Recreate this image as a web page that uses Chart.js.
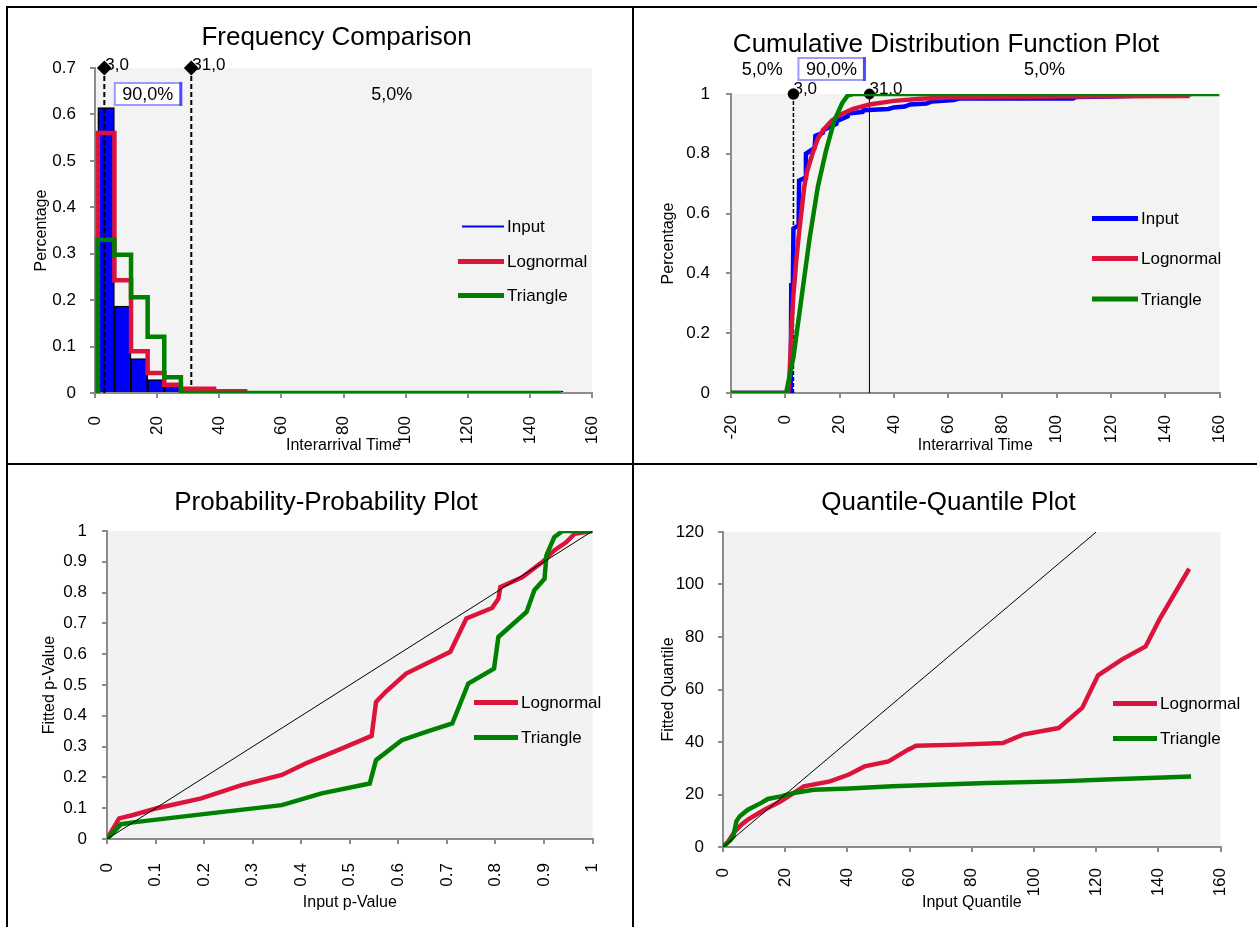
<!DOCTYPE html>
<html><head><meta charset="utf-8">
<script src="https://cdn.jsdelivr.net/npm/chart.js"></script>
<style>
html,body{margin:0;padding:0;background:#fff;}
body{width:1257px;height:927px;position:relative;overflow:hidden;}
.ln{position:absolute;background:#000;}
canvas{position:absolute;}
</style></head><body>
<div class="ln" style="left:6px;top:6px;width:1251px;height:2px"></div>
<div class="ln" style="left:6px;top:463px;width:1251px;height:2px"></div>
<div class="ln" style="left:6px;top:6px;width:2px;height:921px"></div>
<div class="ln" style="left:632px;top:6px;width:2px;height:921px"></div>
<canvas id="c1" width="624" height="455" style="left:8px;top:8px"></canvas>
<canvas id="c2" width="623" height="455" style="left:634px;top:8px"></canvas>
<canvas id="c3" width="624" height="462" style="left:8px;top:465px"></canvas>
<canvas id="c4" width="623" height="462" style="left:634px;top:465px"></canvas>
<script>
// ---------------- DATA ----------------
// Frequency comparison (histogram bins)
const freqBinEdges = [0.9, 6.25, 11.6, 16.95, 22.3, 27.65, 33.0, 38.35, 43.7, 49.05, 54.4, 59.75, 65.1, 70.45, 75.8, 81.15, 86.5, 91.85, 97.2, 102.55, 107.9, 113.25, 118.6, 123.95, 129.3, 134.65, 140.0, 145.35, 150.7];
const freqInput = [0.615, 0.187, 0.074, 0.029, 0.016, 0.004, 0.003, 0.003, 0.002, 0.002, 0.002, 0.002, 0.002, 0.001, 0.002, 0.001, 0.001, 0.002, 0.001, 0.001, 0.002, 0.001, 0.001, 0.001, 0.0, 0.001, 0.001, 0.004];
const freqLognormal = [0.56, 0.243, 0.09, 0.043, 0.018, 0.009, 0.009, 0.004, 0.004];
const freqTriangle = [0.33, 0.298, 0.206, 0.121, 0.034, 0.0];
const freqTriangleEndX = 150;
const freqXTicks = [0, 20, 40, 60, 80, 100, 120, 140, 160];
const freqYTicks = [0, 0.1, 0.2, 0.3, 0.4, 0.5, 0.6, 0.7];

// Cutoffs shared by frequency / CDF charts
const cutoffValues = [3.0, 31.0];
const cutoffPercents = [5.0, 90.0, 5.0];

// Cumulative distribution function
const cdfInputX = [-20, 2.0, 2.2, 2.8, 3.0, 4.9, 5.1, 7.3, 7.6, 10.8, 11.1, 13.8, 14.1, 18.8, 19.1, 23.0, 23.3, 28.5, 28.8, 38, 40, 44, 46, 52, 54, 62, 64, 106, 107, 120, 150];
const cdfInputY = [0, 0, 0.36, 0.36, 0.55, 0.56, 0.71, 0.72, 0.80, 0.82, 0.86, 0.87, 0.88, 0.90, 0.91, 0.925, 0.935, 0.94, 0.946, 0.95, 0.955, 0.958, 0.965, 0.968, 0.975, 0.98, 0.985, 0.985, 0.99, 0.992, 1.0];
const cdfLognormalX = [-20, 1.0, 1.5, 2, 2.5, 3, 3.5, 4, 5, 6, 7, 8, 10, 12, 14, 17, 20, 25, 31, 40, 50, 60, 100, 149];
const cdfLognormalY = [0, 0, 0.05, 0.15, 0.25, 0.33, 0.38, 0.44, 0.53, 0.61, 0.69, 0.74, 0.80, 0.85, 0.88, 0.91, 0.93, 0.95, 0.965, 0.977, 0.984, 0.988, 0.992, 0.993];
const cdfTriangleX = [-20, 0.3, 3, 6, 9, 12, 15, 18, 21, 23, 25, 160];
const cdfTriangleY = [0, 0, 0.12, 0.32, 0.52, 0.69, 0.81, 0.91, 0.97, 0.995, 1, 1];
const cdfXTicks = [-20, 0, 20, 40, 60, 80, 100, 120, 140, 160];
const cdfYTicks = [0, 0.2, 0.4, 0.6, 0.8, 1];

// Probability-Probability
const ppLognormalX = [0, 0.025, 0.054, 0.103, 0.194, 0.277, 0.36, 0.41, 0.467, 0.545, 0.554, 0.574, 0.616, 0.657, 0.707, 0.74, 0.793, 0.806, 0.81, 0.855, 0.897, 0.921, 0.946, 0.963, 1];
const ppLognormalY = [0, 0.067, 0.078, 0.10, 0.132, 0.175, 0.208, 0.246, 0.283, 0.335, 0.445, 0.478, 0.537, 0.569, 0.608, 0.716, 0.75, 0.78, 0.818, 0.85, 0.9, 0.937, 0.964, 0.991, 1];
const ppTriangleX = [0, 0.029, 0.054, 0.194, 0.36, 0.442, 0.541, 0.554, 0.607, 0.657, 0.711, 0.744, 0.797, 0.806, 0.864, 0.88, 0.901, 0.905, 0.921, 0.938, 1];
const ppTriangleY = [0, 0.048, 0.054, 0.08, 0.11, 0.148, 0.18, 0.256, 0.321, 0.348, 0.375, 0.505, 0.553, 0.656, 0.737, 0.808, 0.845, 0.921, 0.98, 1, 1];
const ppDiagonal = [0, 1];
const ppTicks = [0, 0.1, 0.2, 0.3, 0.4, 0.5, 0.6, 0.7, 0.8, 0.9, 1];

// Quantile-Quantile
const qqLognormalX = [0, 1.7, 3.8, 5.9, 8, 13.3, 18.6, 22.8, 26, 34.4, 40.5, 45.5, 53.2, 59.5, 62.1, 76, 90, 96.4, 107.9, 115.5, 120.6, 128.2, 135.9, 140.3, 149.9];
const qqLognormalY = [0, 2.1, 5.9, 8.5, 10.4, 14.2, 17.4, 20.6, 23.1, 25, 27.6, 30.7, 32.6, 37.1, 38.6, 39, 39.6, 42.8, 45.3, 53, 65.4, 71.4, 76.4, 86.6, 106];
const qqTriangleX = [0, 2.3, 3.3, 4.3, 5.4, 8, 12.3, 14.4, 18.6, 22.8, 29.2, 40.5, 54.5, 85, 107.9, 123.2, 150.5];
const qqTriangleY = [0, 2.5, 4, 9.8, 11.7, 14.2, 16.8, 18.3, 19.3, 20.6, 21.8, 22.3, 23.1, 24.4, 25, 25.7, 26.9];
const qqDiagonal = [0, 120];
const qqXTicks = [0, 20, 40, 60, 80, 100, 120, 140, 160];
const qqYTicks = [0, 20, 40, 60, 80, 100, 120];

// ---------------- STYLE ----------------
const FONT = "'Liberation Sans', Arial, sans-serif";
const AXIS = '#8c8c8c';
const RED = '#dc143c', GREEN = '#008000', BLUE = '#0000ff';
Chart.defaults.font.family = FONT;

const pts = (xs, ys) => xs.map((x, i) => ({x, y: ys[i]}));
const fmtComma = v => v.toFixed(1).replace('.', ',');
function stepPts(edges, vals, endX) {
  const p = [{x: edges[0], y: 0}];
  vals.forEach((v, i) => p.push({x: edges[i], y: v}));
  p.push({x: endX !== undefined ? endX : edges[vals.length], y: vals[vals.length - 1]});
  return p;
}

const bgPlugin = {
  id: 'plotBg',
  beforeDraw(chart, args, o) {
    const {ctx, chartArea: a} = chart;
    ctx.save();
    ctx.fillStyle = o.color || '#f2f2f2';
    ctx.fillRect(a.left, a.top, a.right - a.left, a.bottom - a.top);
    ctx.restore();
  }
};
const legendPlugin = {
  id: 'floatLegend',
  afterDraw(chart, args, o) {
    if (!o.items) return;
    const ctx = chart.ctx;
    ctx.save();
    o.items.forEach(it => {
      const ds = chart.data.datasets[it.ds];
      ctx.strokeStyle = it.color || ds.borderColor;
      ctx.lineWidth = it.w;
      ctx.beginPath(); ctx.moveTo(it.x0, it.y); ctx.lineTo(o.x1, it.y); ctx.stroke();
      ctx.fillStyle = '#000';
      ctx.font = '17px ' + FONT;
      ctx.textBaseline = 'middle'; ctx.textAlign = 'left';
      ctx.fillText(ds.label, o.tx, it.y + 1);
    });
    ctx.restore();
  }
};
const cutoffPlugin = {
  id: 'cutoffs',
  beforeDatasetsDraw(chart, args, o) {
    if (!o.show) return;
    const {ctx, scales: {x, y}, chartArea: a} = chart;
    ctx.save();
    ctx.fillStyle = '#000'; ctx.textBaseline = 'middle'; ctx.textAlign = 'left';
    ctx.font = '17px ' + FONT;
    const topY = y.getPixelForValue(o.yTop);
    cutoffValues.forEach(c => ctx.fillText(fmtComma(c), x.getPixelForValue(c) + o.dx, topY + o.dy));
    const bounds = [x.min, cutoffValues[0], cutoffValues[1], x.max];
    ctx.font = '18px ' + FONT; ctx.textAlign = 'center';
    const py = a.top + o.py;
    cutoffPercents.forEach((p, i) => {
      if (!o.bands[i]) return;
      const cx = x.getPixelForValue((bounds[i] + bounds[i + 1]) / 2);
      if (i === 1) {
        ctx.fillStyle = '#ffffff';
        ctx.fillRect(cx - 33, py - 11, 66, 22);
        ctx.strokeStyle = '#9a9aff'; ctx.lineWidth = 2;
        ctx.strokeRect(cx - 33, py - 11, 66, 22);
        ctx.strokeStyle = '#4a4aff'; ctx.lineWidth = 3;
        ctx.beginPath(); ctx.moveTo(cx + 33, py - 12); ctx.lineTo(cx + 33, py + 12); ctx.stroke();
      }
      ctx.fillStyle = '#000';
      ctx.fillText(fmtComma(p) + '%', cx, py + 1);
    });
    ctx.restore();
  }
};

function axisCfg(pos, ticksArr, title, size, titlePad, tickPad, rot) {
  return {
    type: 'linear', position: pos, offset: false,
    min: ticksArr[0], max: ticksArr[ticksArr.length - 1],
    afterBuildTicks: s => { s.ticks = ticksArr.map(v => ({value: v})); },
    afterFit: s => { if (pos === 'left') s.width = size; else s.height = size; },
    ticks: {autoSkip: false, color: '#000', font: {family: FONT, size: 17}, padding: tickPad,
            minRotation: rot, maxRotation: rot, callback: v => String(v)},
    grid: {display: true, drawOnChartArea: false, drawTicks: true, tickLength: 5, color: AXIS, lineWidth: 2, offset: false},
    border: {display: true, color: AXIS, width: 2},
    title: {display: true, text: title, color: '#000', font: {family: FONT, size: 16},
            padding: pos === 'left' ? {top: titlePad, bottom: 0} : {top: 0, bottom: titlePad}}
  };
}

function makeChart(id, g, spec) {
  const cv = document.getElementById(id);
  const W = cv.width, H = cv.height;
  let Rp = W - g.R;
  let Lp = Math.max(0, 2 * g.titleCX - W + Rp);
  let extraR = 0;
  if (g.maxLp !== undefined && Lp > g.maxLp) {
    Lp = g.maxLp;
    Rp = Lp - (2 * g.titleCX - W);
    extraR = (W - g.R) - Rp;
  }
  const Bp = 8;
  const yWidth = g.L - Lp;
  const xHeight = H - Bp - g.B;
  const tLH = 26 * 1.2;
  const tTop = g.titleCY - tLH / 2;
  const tBot = g.T - tTop - tLH;
  const aLH = 16 * 1.2;
  const yTitlePad = g.yTitleX - Lp - aLH / 2;
  const xTitlePad = (H - Bp) - g.xTitleY - aLH / 2;
  const scales = {
    x: axisCfg('bottom', spec.xTicks, spec.xTitle, xHeight, xTitlePad, g.xTickPad, 90),
    y: axisCfg('left', spec.yTicks, spec.yTitle, yWidth, yTitlePad, g.yTickPad, 0)
  };
  if (extraR > 0) {
    scales.ySpace = {type: 'linear', position: 'right', display: true,
      ticks: {display: false}, grid: {display: false, drawTicks: false}, border: {display: false}, title: {display: false},
      afterFit: s => { s.width = extraR; }};
  }
  return new Chart(cv, {
    type: spec.type,
    data: {datasets: spec.datasets},
    plugins: [bgPlugin, legendPlugin, cutoffPlugin],
    options: {
      responsive: false, animation: false, devicePixelRatio: 1, events: [],
      layout: {padding: {left: Lp, right: Rp, top: 0, bottom: Bp}},
      scales,
      plugins: {
        legend: {display: false}, tooltip: {enabled: false},
        title: {display: true, text: spec.title, color: '#000', font: {family: FONT, size: 26, weight: 'normal'},
                padding: {top: tTop, bottom: tBot}},
        plotBg: {color: spec.bg},
        floatLegend: spec.legend,
        cutoffs: spec.cutoffs || {show: false}
      }
    }
  });
}

const lineDs = (label, data, color, order, extra) => Object.assign({
  type: 'line', label, data, borderColor: color, backgroundColor: color, borderWidth: 4.5,
  pointRadius: 0, fill: false, tension: 0, order
}, extra || {});

// ---------- Chart 1: Frequency Comparison ----------
const fTop = freqYTicks[freqYTicks.length - 1];
makeChart('c1', {L: 87, R: 584, T: 60, B: 385, titleCX: 328.5, titleCY: 30, yTitleX: 34, xTitleY: 438, xTickPad: 18, yTickPad: 14, maxLp: 38}, {
  type: 'bar', title: 'Frequency Comparison', xTitle: 'Interarrival Time', yTitle: 'Percentage',
  xTicks: freqXTicks, yTicks: freqYTicks, bg: '#f3f3f3',
  datasets: [
    {type: 'bar', label: 'Input', data: freqInput.map((v, i) => ({x: (freqBinEdges[i] + freqBinEdges[i + 1]) / 2, y: v})),
     backgroundColor: BLUE, borderColor: '#000', borderWidth: 1.5, barPercentage: 1, categoryPercentage: 1, order: 4},
    lineDs('Lognormal', stepPts(freqBinEdges, freqLognormal), RED, 2, {stepped: 'before'}),
    lineDs('Triangle', stepPts(freqBinEdges, freqTriangle, freqTriangleEndX), GREEN, 1, {stepped: 'before'}),
    ...cutoffValues.map(c => lineDs('', [{x: c, y: 0}, {x: c, y: fTop}], '#000', 3,
      {borderWidth: 2, borderDash: [5, 3], pointRadius: [0, 6], pointStyle: 'rectRot', pointBackgroundColor: '#000', pointBorderColor: '#000', clip: false}))
  ],
  legend: {x1: 496, tx: 499, items: [
    {ds: 0, color: BLUE, w: 2, x0: 454, y: 218.5},
    {ds: 1, w: 5, x0: 450, y: 253.5},
    {ds: 2, w: 5, x0: 450, y: 287.5}]},
  cutoffs: {show: true, yTop: fTop, dx: 1, dy: -3, py: 26, bands: [false, true, true]}
});

// ---------- Chart 2: CDF ----------
const cTop = cdfYTicks[cdfYTicks.length - 1];
makeChart('c2', {L: 97, R: 596, T: 86, B: 385, titleCX: 312, titleCY: 37, yTitleX: 35, xTitleY: 438, xTickPad: 17, yTickPad: 16}, {
  type: 'line', title: 'Cumulative Distribution Function Plot', xTitle: 'Interarrival Time', yTitle: 'Percentage',
  xTicks: cdfXTicks, yTicks: cdfYTicks, bg: '#f3f3f1',
  datasets: [
    lineDs('Input', pts(cdfInputX, cdfInputY), BLUE, 3),
    lineDs('Lognormal', pts(cdfLognormalX, cdfLognormalY), RED, 2),
    lineDs('Triangle', pts(cdfTriangleX, cdfTriangleY), GREEN, 1),
    lineDs('', [{x: cutoffValues[0], y: 0}, {x: cutoffValues[0], y: cTop}], '#000', 4,
      {borderWidth: 1.5, borderDash: [4, 2], pointRadius: [0, 5], pointStyle: 'circle', pointBackgroundColor: '#000', pointBorderColor: '#000', clip: false}),
    lineDs('', [{x: cutoffValues[1], y: 0}, {x: cutoffValues[1], y: cTop}], '#000', 4,
      {borderWidth: 1, pointRadius: [0, 5], pointStyle: 'circle', pointBackgroundColor: '#000', pointBorderColor: '#000', clip: false})
  ],
  legend: {x1: 504, tx: 507, items: [
    {ds: 0, w: 5, x0: 458, y: 210.5},
    {ds: 1, w: 5, x0: 458, y: 250.5},
    {ds: 2, w: 5, x0: 458, y: 291}]},
  cutoffs: {show: true, yTop: cTop, dx: 0, dy: -5, py: -25, bands: [true, true, true]}
});

// ---------- Chart 3: P-P ----------
makeChart('c3', {L: 99, R: 586, T: 66, B: 374, titleCX: 318, titleCY: 37.5, yTitleX: 42, xTitleY: 438, xTickPad: 19, yTickPad: 15}, {
  type: 'line', title: 'Probability-Probability Plot', xTitle: 'Input p-Value', yTitle: 'Fitted p-Value',
  xTicks: ppTicks, yTicks: ppTicks, bg: '#f2f2f2',
  datasets: [
    lineDs('Lognormal', pts(ppLognormalX, ppLognormalY), RED, 2),
    lineDs('Triangle', pts(ppTriangleX, ppTriangleY), GREEN, 1),
    lineDs('', pts(ppDiagonal, ppDiagonal), '#000', 0, {borderWidth: 1})
  ],
  legend: {x1: 510, tx: 513, items: [
    {ds: 0, w: 5, x0: 466, y: 237.5},
    {ds: 1, w: 5, x0: 466, y: 272.5}]}
});

// ---------- Chart 4: Q-Q ----------
makeChart('c4', {L: 89, R: 594, T: 67, B: 382, titleCX: 314.5, titleCY: 37.5, yTitleX: 35, xTitleY: 438, xTickPad: 16, yTickPad: 14}, {
  type: 'line', title: 'Quantile-Quantile Plot', xTitle: 'Input Quantile', yTitle: 'Fitted Quantile',
  xTicks: qqXTicks, yTicks: qqYTicks, bg: '#f2f2f2',
  datasets: [
    lineDs('Lognormal', pts(qqLognormalX, qqLognormalY), RED, 2),
    lineDs('Triangle', pts(qqTriangleX, qqTriangleY), GREEN, 1),
    lineDs('', pts(qqDiagonal, qqDiagonal), '#000', 0, {borderWidth: 1})
  ],
  legend: {x1: 523, tx: 526, items: [
    {ds: 0, w: 5, x0: 479, y: 238.5},
    {ds: 1, w: 5, x0: 479, y: 273.5}]}
});
</script>
</body></html>
